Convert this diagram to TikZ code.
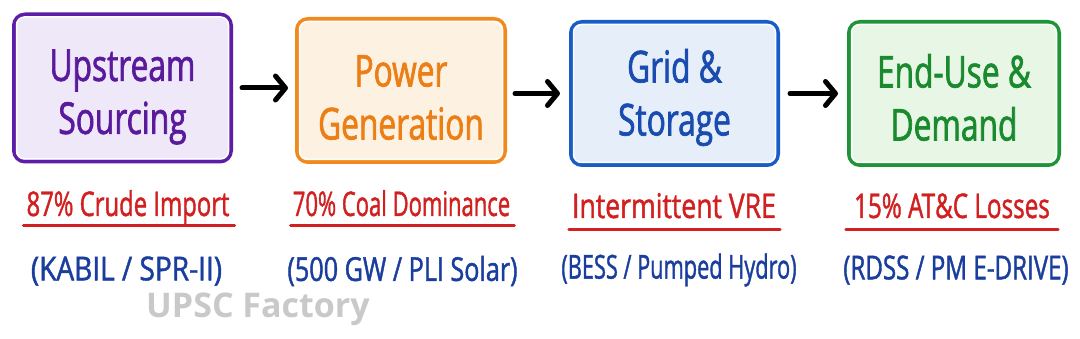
\documentclass[tikz,border=0pt]{standalone}
\usepackage{fontspec}
\usetikzlibrary{arrows.meta}
\newfontfamily\hand[FakeStretch=0.72,FakeBold=1.5]{Open Sans}
\newfontfamily\handl[FakeStretch=0.72,FakeBold=1.2]{Open Sans}
\newfontfamily\wmfont{Open Sans}
\definecolor{pborder}{HTML}{5E1DA6}
\definecolor{pfill}{HTML}{EFE8F8}
\definecolor{ptext}{HTML}{5A1A9C}
\definecolor{oborder}{HTML}{F08A1C}
\definecolor{ofill}{HTML}{FDF1E2}
\definecolor{otext}{HTML}{EC7E16}
\definecolor{bborder}{HTML}{1A5CC6}
\definecolor{bfill}{HTML}{E6EEFA}
\definecolor{btext}{HTML}{1A4CB0}
\definecolor{gborder}{HTML}{1E9438}
\definecolor{gfill}{HTML}{E8F6E6}
\definecolor{gtext}{HTML}{1A8A2E}
\definecolor{redtxt}{HTML}{D21F1F}
\definecolor{bluetxt}{HTML}{1A3E9E}
\definecolor{wm}{HTML}{C9C9C9}
\tikzset{
  stagebox/.style={draw, line width=4pt, rounded corners=11pt, align=center,
    inner sep=0pt, font=\hand\fontsize{44}{53}\selectfont},
  stagetext/.style={inner sep=0pt, align=center, font=\hand\fontsize{44}{53}\selectfont},
  flowarrow/.style={line width=5pt, line cap=round,
    -{Straight Barb[length=10pt,width=24pt,line width=5pt,round]}},
  redlabel/.style={inner sep=0pt, text=redtxt, font=\handl\fontsize{34}{36}\selectfont},
  bluelabel/.style={inner sep=0pt, text=bluetxt, font=\handl\fontsize{33}{36}\selectfont},
  uline/.style={draw=redtxt, line width=3pt, line cap=round},
}
\begin{document}
\begin{tikzpicture}[x=1pt,y=-1pt]
\useasboundingbox[fill=white] (0,0) rectangle (1080,339);
% boxes
\node[stagebox, draw=pborder, fill=pfill, minimum width=217pt, minimum height=147pt] (b1) at (122.5,88) {};
\node[stagebox, draw=oborder, fill=ofill, minimum width=208pt, minimum height=143pt] (b2) at (401,90.5) {};
\node[stagebox, draw=bborder, fill=bfill, minimum width=207pt, minimum height=143pt] (b3) at (674.5,93.5) {};
\node[stagebox, draw=gborder, fill=gfill, minimum width=210pt, minimum height=143pt] (b4) at (954,93.5) {};
% inner white highlight
\foreach \b in {b1,b2,b3,b4}{
  \draw[white, line width=1.5pt, rounded corners=8pt] ([shift={(4.5pt,-4.5pt)}]\b.north west) rectangle ([shift={(-4.5pt,4.5pt)}]\b.south east);
}
% box texts
\node[stagetext, text=ptext] (t1) at ([yshift=-9pt]b1.center) {Upstream\\Sourcing};
\node[stagetext, text=otext] (t2) at ([yshift=-7pt]b2.center) {Power\\Generation};
\node[stagetext, text=btext] (t3) at ([yshift=-4pt]b3.center) {Grid \&\\Storage};
\node[stagetext, text=gtext] (t4) at ([yshift=-4pt]b4.center) {End-Use \&\\Demand};
% arrows
\draw[flowarrow, shorten <=9pt, shorten >=7pt] (b1.east) -- (b1.east -| b2.west);
\draw[flowarrow, shorten <=8pt, shorten >=9pt] (b2.east |- b3.east) -- (b3.west);
\draw[flowarrow, shorten <=10pt, shorten >=9pt] (b3.east) -- (b4.west);
% red labels
\node[redlabel, anchor=base] (r1) at (128,216) {\scalebox{0.975}[1]{87\% Crude Import}};
\node[redlabel, anchor=base] (r2) at (401.5,216) {\scalebox{0.90}[1]{70\% Coal Dominance}};
\node[redlabel, anchor=base] (r3) at (674,218) {\scalebox{1.087}[1]{Intermittent VRE}};
\node[redlabel, anchor=base] (r4) at (952,218) {\scalebox{0.99}[1]{15\% AT\&C Losses}};
\draw[uline] ([shift={(-3pt,-10pt)}]r1.base west) -- ([shift={(5pt,-10pt)}]r1.base east);
\draw[uline] ([shift={(-2pt,-10pt)}]r2.base west) -- ([shift={(4pt,-10pt)}]r2.base east);
\draw[uline] ([shift={(-3pt,-12pt)}]r3.base west) -- ([shift={(4pt,-12pt)}]r3.base east);
\draw[uline] ([shift={(-8pt,-12pt)}]r4.base west) -- ([shift={(8pt,-12pt)}]r4.base east);
% blue labels
\node[bluelabel] (s1) at (126.5,271) {\scalebox{1.18}[1]{(KABIL / SPR-II)}};
\node[bluelabel] (s2) at (402.5,271) {\scalebox{1.06}[1]{(500 GW / PLI Solar)}};
\node[bluelabel] (s3) at (679,270) {\scalebox{0.915}[1]{(BESS / Pumped Hydro)}};
\node[bluelabel] (s4) at (956,270) {\scalebox{1.015}[1]{(RDSS / PM E-DRIVE)}};
% watermark
\node[inner sep=0pt, text=wm, font=\wmfont\bfseries\fontsize{34}{36}\selectfont] (wm) at (258,309) {UPSC Factory};
\end{tikzpicture}
\end{document}
